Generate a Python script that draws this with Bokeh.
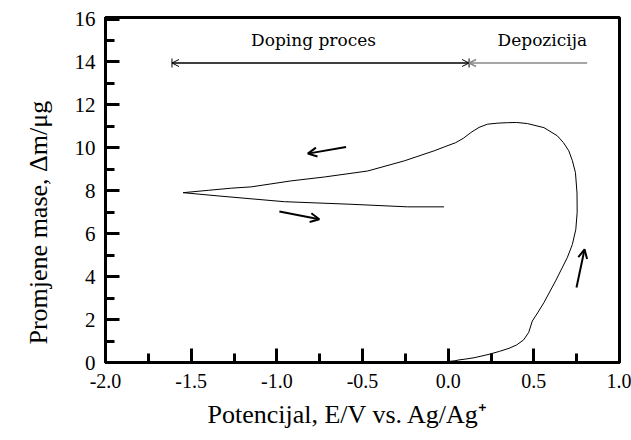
from bokeh.plotting import figure
from bokeh.models import FixedTicker, Range1d, Arrow, OpenHead, TeeHead, Label, Title
from bokeh.embed import file_html
from bokeh.resources import INLINE

# ---- data ----
pot = [0.003, 0.04, 0.062, 0.093, 0.151, 0.238, 0.30, 0.355, 0.40, 0.44, 0.47,
       0.491, 0.525, 0.559, 0.627, 0.695, 0.725, 0.745, 0.753, 0.752, 0.743,
       0.725, 0.704, 0.672, 0.637, 0.559, 0.462, 0.40, 0.345, 0.29, 0.229,
       0.18, 0.132, 0.09, 0.044, -0.02, -0.082, -0.257, -0.47, -0.723, -0.917,
       -1.15, -1.266, -1.40, -1.547,
       -1.344, -0.956, -0.567, -0.237, -0.024]
mass = [0.05, 0.08, 0.12, 0.15, 0.22, 0.38, 0.52, 0.66, 0.82, 1.05, 1.4,
        1.93, 2.35, 2.79, 3.8, 4.88, 5.5, 6.2, 7.0, 7.9, 8.84,
        9.4, 9.86, 10.25, 10.56, 10.94, 11.13, 11.18, 11.17, 11.15, 11.1,
        10.95, 10.71, 10.45, 10.24, 10.05, 9.86, 9.39, 8.92, 8.64, 8.46,
        8.18, 8.12, 8.02, 7.91,
        7.76, 7.49, 7.37, 7.25, 7.25]

dir_x0 = [-0.596, -0.985, 0.749]
dir_y0 = [10.04, 7.03, 3.49]
dir_x1 = [-0.819, -0.752, 0.796]
dir_y1 = [9.73, 6.67, 5.27]

doping_x = [-1.612, 0.122]
depo_x = [0.811, 0.122]
region_y = 13.95
region_texts = ["Doping  proces", "Depozicija"]
region_text_x = [-0.77, 0.811]
region_text_y = 14.55

x_title = "Potencijal, E/V vs. Ag/Ag\u207a"
y_title = "Promjene mase,  \u0394m/\u03bcg"

x_ticks = [-2.0, -1.5, -1.0, -0.5, 0.0, 0.5, 1.0]
x_tick_labels = ["-2.0", "-1.5", "-1.0", "-0.5", "0.0", "0.5", "1.0"]
x_minor = [-1.75, -1.25, -0.75, -0.25, 0.25, 0.75]
y_ticks = [0, 2, 4, 6, 8, 10, 12, 14, 16]
y_tick_labels = ["0", "2", "4", "6", "8", "10", "12", "14", "16"]
y_minor = [1, 3, 5, 7, 9, 11, 13, 15]

FONT = "Liberation Serif"
NOTE_FONT = "DejaVu Serif"

p = figure(width=631, height=440, output_backend="svg", toolbar_location=None,
           x_range=Range1d(-2.0, 1.0), y_range=Range1d(0, 16.07),
           min_border_left=105, min_border_right=12, min_border_top=17, min_border_bottom=78)
p.grid.visible = False
p.outline_line_color = "black"
p.outline_line_width = 3

p.line(pot, mass, line_color="black", line_width=1)

for x0, y0, x1, y1 in zip(dir_x0, dir_y0, dir_x1, dir_y1):
    p.add_layout(Arrow(x_start=x0, y_start=y0, x_end=x1, y_end=y1, line_width=2,
                       end=OpenHead(size=9, line_width=2, line_color="black")))

p.add_layout(Arrow(x_start=doping_x[1], y_start=region_y, x_end=doping_x[0], y_end=region_y,
                   line_width=1, line_color="black",
                   start=OpenHead(size=7, line_width=1), end=OpenHead(size=7, line_width=1)))
p.add_layout(Arrow(x_start=doping_x[1], y_start=region_y, x_end=doping_x[0], y_end=region_y,
                   line_width=1, line_color="black",
                   start=TeeHead(size=9, line_width=1), end=TeeHead(size=9, line_width=1)))
p.add_layout(Arrow(x_start=depo_x[0], y_start=region_y, x_end=depo_x[1], y_end=region_y,
                   line_width=1.5, line_color="#888888",
                   end=OpenHead(size=7, line_width=1.5, line_color="#888888")))

p.add_layout(Label(x=region_text_x[0], y=region_text_y, text=region_texts[0], text_align="center",
                   text_font=NOTE_FONT, text_font_size="17px", text_color="black"))
p.add_layout(Label(x=region_text_x[1], y=region_text_y, text=region_texts[1], text_align="right",
                   text_font=NOTE_FONT, text_font_size="17px", text_color="black"))

for ax in (p.xaxis[0], p.yaxis[0]):
    ax.axis_line_width = 3
    ax.major_tick_line_width = 3
    ax.minor_tick_line_width = 3
    ax.major_tick_in = 14
    ax.major_tick_out = 0
    ax.minor_tick_in = 9
    ax.minor_tick_out = 0
    ax.major_label_text_font = FONT
    ax.major_label_text_color = "black"

p.xaxis.major_label_text_font_size = "20px"
p.yaxis.major_label_text_font_size = "21px"
p.xaxis.ticker = FixedTicker(ticks=x_ticks, minor_ticks=x_minor)
p.xaxis.major_label_overrides = dict(zip(x_ticks, x_tick_labels))
p.yaxis.ticker = FixedTicker(ticks=y_ticks, minor_ticks=y_minor)
p.yaxis.major_label_overrides = dict(zip(y_ticks, y_tick_labels))
p.xaxis.major_label_standoff = 11
p.yaxis.major_label_standoff = 10

# axis titles as side titles so they can be positioned like the original
p.add_layout(Title(text=x_title, align="left", offset=102, standoff=15,
                   text_font=FONT, text_font_size="26px", text_font_style="normal",
                   text_color="black"), "below")
p.add_layout(Title(text=y_title, align="left", offset=18, standoff=38,
                   text_font=FONT, text_font_size="26px", text_font_style="normal",
                   text_color="black"), "left")

open("out.html", "w").write(file_html(p, INLINE))
